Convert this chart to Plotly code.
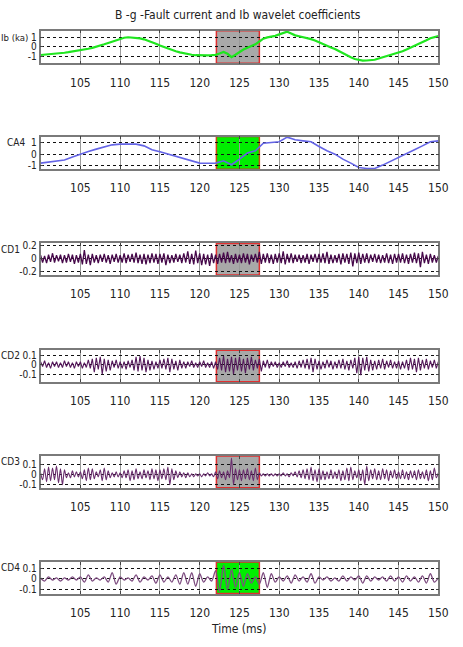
import numpy as np
import plotly.graph_objects as go

# ---------------- data ----------------
t_start, t_end = 100, 150

ib_values = [-0.88, -0.85, -0.82, -0.78, -0.74, -0.70, -0.64, -0.58, -0.52, -0.45,
             -0.40, -0.30, -0.22, -0.12, -0.02, 0.10, 0.25, 0.40, 0.55, 0.72,
             0.85, 0.95, 1.00, 0.98, 0.95, 0.88, 0.78, 0.65, 0.50, 0.32,
             0.12, -0.05, -0.20, -0.35, -0.48, -0.60, -0.70, -0.78, -0.85, -0.90,
             -0.92, -0.93, -0.92, -0.90, -0.86, -0.72, -0.55, -0.75, -1.10, -0.85,
             -0.55, -0.30, -0.10, 0.05, 0.25, 0.55, 0.85, 0.98, 1.05, 1.15,
             1.30, 1.45, 1.58, 1.40, 1.20, 1.10, 1.02, 0.92, 0.80, 0.65,
             0.45, 0.28, 0.10, -0.08, -0.25, -0.48, -0.70, -0.92, -1.12, -1.30,
             -1.42, -1.48, -1.46, -1.44, -1.38, -1.25, -1.12, -1.00, -0.88, -0.76,
             -0.65, -0.48, -0.30, -0.12, 0.08, 0.28, 0.48, 0.68, 0.90, 1.05, 1.12]

ca4_values = [-0.77, -0.70, -0.60, -0.50, -0.25, 0.00, 0.22, 0.43, 0.62, 0.80,
              0.86, 0.86, 0.86, 0.71, 0.37, 0.20, 0.00, -0.23, -0.43, -0.63,
              -0.77, -0.78, -0.77, -0.57, -0.91, -0.43, 0.09, 0.29, 0.94, 1.00,
              1.06, 1.46, 1.23, 1.14, 1.06, 0.66, 0.29, 0.00, -0.43, -0.77,
              -1.14, -1.23, -1.23, -0.94, -0.63, -0.29, 0.00, 0.37, 0.71, 1.06, 1.14]

cd1_values = [0.05, -0.06, 0.04, -0.07, 0.06, -0.05, 0.08, -0.06, 0.05, -0.04,
              0.06, -0.07, 0.05, -0.06, 0.07, -0.05, 0.06, -0.08, 0.05, -0.06,
              0.07, -0.09, 0.13, -0.08, 0.06, -0.10, 0.07, -0.06, 0.05, -0.07,
              0.06, -0.05, 0.07, -0.06, 0.05, -0.08, 0.06, -0.05, 0.07, -0.06,
              0.05, -0.06, 0.08, -0.07, 0.06, -0.05, 0.07, -0.06, 0.09, -0.07,
              0.06, -0.08, 0.07, -0.09, 0.06, -0.07, 0.08, -0.06, 0.07, -0.08,
              0.07, -0.06, 0.08, -0.10, 0.06, -0.07, 0.05, -0.06, 0.07, -0.05,
              0.06, -0.07, 0.08, -0.06, 0.11, -0.08, 0.07, -0.09, 0.12, -0.07,
              0.08, -0.10, 0.07, -0.09, 0.06, -0.11, 0.08, -0.07, 0.06, -0.08,
              0.07, -0.06, 0.09, -0.07, 0.10, -0.06, 0.05, -0.08, 0.07, -0.06,
              0.06, -0.07, 0.08, -0.06, 0.07, -0.09, 0.06, -0.05, 0.07, -0.06,
              0.10, -0.08, 0.07, -0.06, 0.08, -0.07, 0.06, -0.08, 0.07, -0.06,
              0.08, -0.07, 0.11, -0.09, 0.07, -0.06, 0.08, -0.07, 0.06, -0.05,
              0.06, -0.07, 0.05, -0.06, 0.07, -0.08, 0.06, -0.05, 0.07, -0.06,
              0.07, -0.06, 0.08, -0.07, 0.10, -0.08, 0.06, -0.07, 0.05, -0.06,
              0.07, -0.09, 0.08, -0.06, 0.07, -0.08, 0.09, -0.12, 0.08, -0.07,
              0.09, -0.08, 0.07, -0.06, 0.08, -0.07, 0.06, -0.05, 0.07, -0.06,
              0.06, -0.07, 0.05, -0.06, 0.08, -0.07, 0.06, -0.08, 0.07, -0.06,
              0.07, -0.06, 0.08, -0.07, 0.06, -0.08, 0.07, -0.06, 0.09, -0.07,
              0.08, -0.13, 0.10, -0.07, 0.06, -0.08, 0.07, -0.06, 0.05, -0.06, 0.04]

cd2_values = [0.03, -0.02, 0.04, -0.03, 0.02, -0.04, 0.03, -0.02, 0.03, -0.03,
              0.02, -0.03, 0.04, -0.02, 0.03, -0.03, 0.02, -0.04, 0.03, -0.02,
              0.03, -0.04, 0.02, -0.03, 0.05, -0.04, 0.06, -0.08, 0.07, -0.05,
              0.08, -0.10, 0.06, -0.07, 0.05, -0.06, 0.04, -0.03, 0.05, -0.04,
              0.03, -0.04, 0.03, -0.05, 0.04, -0.03, 0.05, -0.06, 0.08, -0.07,
              0.09, -0.06, 0.07, -0.08, 0.05, -0.06, 0.04, -0.05, 0.03, -0.04,
              0.05, -0.04, 0.06, -0.05, 0.07, -0.08, 0.06, -0.05, 0.04, -0.06,
              0.05, -0.04, 0.03, -0.04, 0.03, -0.02, 0.04, -0.03, 0.02, -0.03,
              0.03, -0.02, 0.04, -0.03, 0.02, -0.03, 0.03, -0.04, 0.03, -0.05,
              0.07, -0.06, 0.09, -0.08, 0.06, -0.07, 0.08, -0.10, 0.07, -0.06,
              0.08, -0.07, 0.06, -0.09, 0.07, -0.05, 0.08, -0.06, 0.05, -0.04,
              0.06, -0.07, 0.04, -0.03, 0.05, -0.04, 0.03, -0.02, 0.03, -0.03,
              0.02, -0.03, 0.03, -0.02, 0.04, -0.03, 0.02, -0.03, 0.03, -0.04,
              0.04, -0.03, 0.05, -0.04, 0.06, -0.05, 0.07, -0.08, 0.06, -0.05,
              0.04, -0.05, 0.03, -0.04, 0.05, -0.03, 0.04, -0.05, 0.03, -0.04,
              0.05, -0.04, 0.06, -0.05, 0.04, -0.06, 0.05, -0.04, 0.07, -0.09,
              0.08, -0.11, 0.07, -0.06, 0.08, -0.07, 0.05, -0.06, 0.04, -0.05,
              0.05, -0.04, 0.06, -0.05, 0.04, -0.03, 0.05, -0.04, 0.03, -0.04,
              0.04, -0.05, 0.03, -0.04, 0.05, -0.06, 0.07, -0.05, 0.06, -0.08,
              0.07, -0.06, 0.05, -0.04, 0.06, -0.05, 0.04, -0.03, 0.05, -0.04, 0.03]

cd3_values = [0.02, -0.05, 0.06, -0.07, 0.08, -0.06, 0.07, -0.05, 0.09, -0.08,
              0.06, -0.10, 0.05, -0.03, 0.02, -0.03, 0.04, -0.02, 0.03, -0.02,
              0.03, -0.04, 0.05, -0.06, 0.07, -0.05, 0.06, -0.04, 0.03, -0.02,
              0.05, -0.06, 0.07, -0.05, 0.04, -0.03, 0.02, -0.02, 0.03, -0.02,
              0.02, -0.03, 0.04, -0.03, 0.05, -0.06, 0.04, -0.05, 0.06, -0.04,
              0.03, -0.04, 0.05, -0.03, 0.04, -0.05, 0.06, -0.04, 0.05, -0.06,
              0.05, -0.04, 0.06, -0.05, 0.08, -0.10, 0.06, -0.05, 0.04, -0.03,
              0.03, -0.02, 0.02, -0.03, 0.02, -0.02, 0.01, -0.02, 0.01, -0.01,
              0.01, -0.02, 0.01, -0.01, 0.02, -0.01, 0.01, -0.02, 0.03, -0.04,
              0.04, -0.03, 0.03, -0.05, 0.04, -0.03, 0.17, -0.10, 0.06, -0.05,
              0.05, -0.06, 0.05, -0.04, 0.06, -0.05, 0.04, -0.06, 0.07, -0.05,
              0.02, -0.01, 0.01, -0.01, 0.01, -0.01, 0.01, -0.01, 0.01, -0.01,
              0.01, -0.01, 0.02, -0.01, 0.01, -0.02, 0.02, -0.01, 0.03, -0.02,
              0.04, -0.03, 0.05, -0.04, 0.06, -0.05, 0.08, -0.06, 0.05, -0.07,
              0.06, -0.05, 0.04, -0.05, 0.03, -0.04, 0.05, -0.04, 0.03, -0.04,
              0.05, -0.06, 0.04, -0.05, 0.07, -0.06, 0.08, -0.05, 0.04, -0.03,
              0.05, -0.06, 0.05, -0.10, 0.09, -0.06, 0.05, -0.04, 0.06, -0.05,
              0.04, -0.05, 0.06, -0.04, 0.05, -0.06, 0.04, -0.03, 0.05, -0.04,
              0.03, -0.04, 0.05, -0.04, 0.03, -0.05, 0.04, -0.03, 0.04, -0.05,
              0.05, -0.04, 0.03, -0.04, 0.05, -0.06, 0.04, -0.05, 0.07, -0.03, 0.02]

cd4_values = [0.01, -0.02, 0.02, -0.01, 0.01, -0.02, 0.01, -0.01, 0.02, -0.01,
              0.02, -0.03, 0.04, -0.02, 0.01, -0.01, 0.02, -0.03, 0.06, -0.05,
              0.02, -0.01, 0.01, -0.02, 0.04, -0.03, 0.02, -0.01, 0.03, -0.04,
              0.04, -0.03, 0.02, -0.03, 0.04, -0.05, 0.06, -0.05, 0.06, -0.07,
              0.05, -0.03, 0.02, -0.02, 0.08, -0.12, 0.13, -0.10, 0.09, -0.08,
              0.06, -0.07, 0.05, -0.04, 0.02, -0.05, 0.06, -0.08, 0.05, -0.03,
              0.02, -0.02, 0.03, -0.04, 0.04, -0.02, 0.02, -0.03, 0.05, -0.04,
              0.02, -0.01, 0.02, -0.02, 0.01, -0.02, 0.03, -0.02, 0.02, -0.01,
              0.03, -0.04, 0.03, -0.02, 0.02, -0.01, 0.02, -0.02, 0.03, -0.02,
              0.02, -0.03, 0.03, -0.02, 0.02, -0.03, 0.03, -0.04, 0.05, -0.03, 0.01]

x_tick_values = [105, 110, 115, 120, 125, 130, 135, 140, 145, 150]
fault_window = [122.1, 127.5]

panel_labels = ["Ib (ka)", "CA4", "CD1", "CD2", "CD3", "CD4"]
panel_series = [ib_values, ca4_values, cd1_values, cd2_values, cd3_values, cd4_values]
panel_yranges = [[-1.76, 1.69], [-1.29, 1.51], [-0.25, 0.23], [-0.18, 0.15], [-0.13, 0.19], [-0.14, 0.164]]
panel_yticks = [[-1, 0, 1], [-1, 0, 1], [-0.2, 0, 0.2], [-0.1, 0, 0.1], [-0.1, 0, 0.1], [-0.1, 0, 0.1]]
panel_yticktext = [["-1", "0", "1"], ["-1", "0", "1"], ["-0.2", "0", "0.2"],
                   ["-0.1", "0", "0.1"], ["-0.1", "0", "0.1"], ["-0.1", "0", "0.1"]]

# ---------------- styles ----------------
W, H = 463, 647
panel_px = [(27, 60), (134, 167), (242, 274), (350, 382), (457, 489), (564, 596)]
line_colors = ["#1fe61f", "#6464e6", "#46094a", "#561a5c", "#6a2e6e", "#7e4d80"]
line_widths = [2.2, 1.6, 1.3, 1.1, 1.1, 1.3]
line_shapes = ["linear", "linear", "linear", "linear", "spline", "spline"]
win_fill = ["#a8a8a8", "#00ee00", "#a8a8a8", "#a8a8a8", "#a8a8a8", "#00ee00"]
win_line = ["#e03030", "#c84a10", "#e03030", "#e03030", "#e03030", "#e03030"]
label_right = [31, 28, 22, 22, 22, 22]
label_y = [34, 140, 248, 355, 463, 570]
label_size = [9.5, 10, 10, 10, 10, 10]

FONT = "DejaVu Sans Condensed, Liberation Sans Narrow, Arial Narrow, Liberation Sans, sans-serif"
FS = 10

x0, x1 = 41.5 / W, 448 / W

fig = go.Figure()
layout = dict(
    width=W, height=H, margin=dict(l=0, r=0, t=0, b=0),
    paper_bgcolor="white", plot_bgcolor="white", showlegend=False,
    font=dict(family=FONT, size=FS, color="#222"),
)
shapes = []
annotations = []

for i in range(6):
    n = i + 1
    xa = "x" if n == 1 else f"x{n}"
    ya = "y" if n == 1 else f"y{n}"
    vals = panel_series[i]
    t = np.linspace(t_start, t_end, len(vals))
    fig.add_trace(go.Scatter(x=t, y=vals, xaxis=xa, yaxis=ya, mode="lines",
                             line=dict(color=line_colors[i], width=line_widths[i],
                                       shape=line_shapes[i], smoothing=0.8),
                             hoverinfo="skip"))
    top, bot = panel_px[i]
    layout[f"xaxis{'' if n == 1 else n}"] = dict(
        domain=[x0, x1], anchor=ya, range=[t_start, t_end],
        tickvals=x_tick_values, ticktext=[str(v) for v in x_tick_values],
        ticks="inside", ticklen=3, tickcolor="#444",
        showgrid=True, gridcolor="#9a9a9a", gridwidth=1,
        zeroline=False, showline=True, linecolor="#7a7a7a", linewidth=1.5,
        mirror="ticks", tickfont=dict(size=12, family=FONT, color="#222"),
        ticklabelstandoff=7,
    )
    layout[f"yaxis{'' if n == 1 else n}"] = dict(
        domain=[1 - bot / H, 1 - top / H], anchor=xa, range=panel_yranges[i],
        tickvals=panel_yticks[i], ticktext=panel_yticktext[i],
        ticks="inside", ticklen=3, tickcolor="#444",
        showgrid=True, gridcolor="#111", griddash="dot", gridwidth=1,
        zeroline=False, showline=True, linecolor="#7a7a7a", linewidth=1.5,
        mirror="ticks", tickfont=dict(size=FS, family=FONT, color="#222"),
        ticklabelstandoff=0,
    )
    shapes.append(dict(type="rect", xref=xa, yref=f"{ya} domain",
                       x0=fault_window[0], x1=fault_window[1], y0=0, y1=1,
                       fillcolor=win_fill[i], line=dict(color=win_line[i], width=1.5),
                       layer="below"))
    annotations.append(dict(text=panel_labels[i], xref="paper", yref="paper",
                            x=label_right[i] / W, y=1 - label_y[i] / H,
                            xanchor="right", yanchor="middle", showarrow=False,
                            font=dict(size=label_size[i], family=FONT, color="#222")))

annotations.append(dict(text="B -g -Fault current and Ib wavelet coefficients",
                        xref="paper", yref="paper", x=243 / W, y=1 - 11 / H,
                        xanchor="center", yanchor="middle", showarrow=False,
                        font=dict(size=12, family=FONT, color="#222")))
annotations.append(dict(text="Time (ms)", xref="paper", yref="paper",
                        x=244 / W, y=1 - 632 / H, xanchor="center", yanchor="middle",
                        showarrow=False, font=dict(size=12, family=FONT, color="#222")))

layout["shapes"] = shapes
layout["annotations"] = annotations
fig.update_layout(**layout)
fig.write_html("out.html")
